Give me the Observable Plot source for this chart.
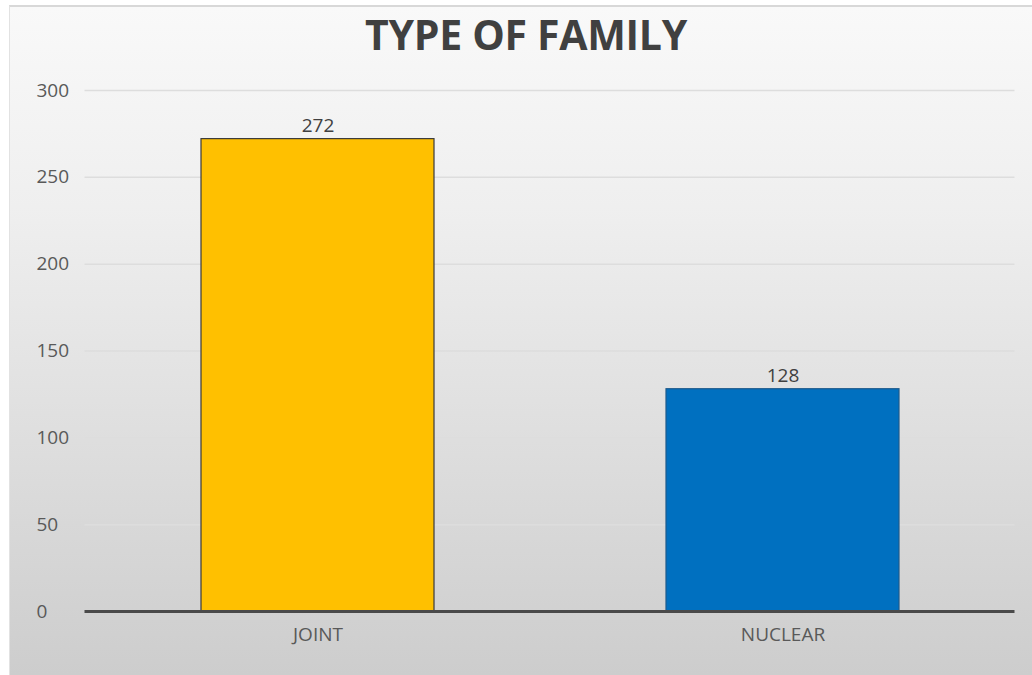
<!DOCTYPE html>
<html>
<head>
<meta charset="utf-8">
<script src="https://cdn.jsdelivr.net/npm/d3@7"></script>
<script src="https://cdn.jsdelivr.net/npm/@observablehq/plot@0.6"></script>
<style>
  html, body { margin: 0; padding: 0; background: #ffffff; }
  #page { position: relative; width: 1032px; height: 675px; overflow: hidden; background: #ffffff; }
  #chart {
    position: absolute; left: 9px; top: 5px; width: 1023px; height: 670px;
    border-top: 2px solid #d8d8d8; border-left: 1px solid #e2e2e2;
    background: linear-gradient(to bottom, #f9f9f9 0%, #efefef 30%, #dedede 65%, #cdcdcd 100%);
    box-sizing: border-box;
  }
  #title {
    position: absolute; left: 10px; top: -3px; width: 1032px; height: 75px;
    text-align: center; font-family: "Open Sans", sans-serif; font-weight: 700;
    font-size: 41px; color: #404040; line-height: 75px; letter-spacing: -0.3px;
  }
  #plot { position: absolute; left: 0; top: 75px; width: 1032px; }
  #plot svg { max-width: none; }
</style>
</head>
<body>
<div id="page">
  <div id="chart"></div>
  <div id="title">TYPE OF FAMILY</div>
  <div id="plot"></div>
</div>
<script>
const categories = ["JOINT", "NUCLEAR"];
const counts = [272, 128];
const barColors = ["#FFC000", "#0070C0"];
const barStrokes = ["#3a3a3a", "#1d5a8c"];
const yTicks = [0, 50, 100, 150, 200, 250, 300];

const data = categories.map((c, i) => ({category: c, value: counts[i], fill: barColors[i], stroke: barStrokes[i]}));
const font = "'Open Sans', sans-serif";

const chart = Plot.plot({
  width: 1032,
  height: 600,
  marginTop: 15,
  marginBottom: 64,
  marginLeft: 84.5,
  marginRight: 17.5,
  style: {background: "transparent", fontFamily: font, fontSize: "19px", color: "#595959"},
  x: {domain: categories, paddingInner: 0.5, paddingOuter: 0.25, axis: null},
  y: {domain: [0, 300], axis: null},
  marks: [
    Plot.gridY(yTicks.filter(d => d > 0), {stroke: "#dddddd", strokeOpacity: 1, strokeWidth: 1.5}),
    Plot.text(yTicks, {y: d => d, frameAnchor: "left", dx: -48.5, textAnchor: "start", fill: "#595959", fontSize: 19}),
    Plot.barY(data, {x: "category", y: "value", fill: "fill", stroke: "stroke", strokeWidth: 1.2}),
    Plot.ruleY([0], {stroke: "#4a4a4a", strokeWidth: 3}),
    Plot.text(data, {x: "category", y: "value", text: d => String(d.value), dy: -13, fill: "#404040", fontSize: 19}),
    Plot.text(data, {x: "category", text: "category", frameAnchor: "bottom", dy: 29, fill: "#595959", fontSize: 19})
  ]
});
document.getElementById("plot").appendChild(chart);
</script>
</body>
</html>
